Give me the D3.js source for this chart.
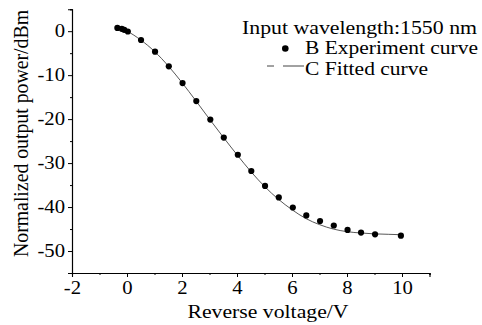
<!DOCTYPE html>
<html><head><meta charset="utf-8">
<script src="https://cdn.jsdelivr.net/npm/d3@7"></script>
<style>
html,body{margin:0;padding:0;background:#fff;}
svg{display:block;}
text{font-family:"Liberation Serif","Times New Roman",serif;fill:#000;}
</style></head>
<body>
<svg id="chart" width="482" height="325"></svg>
<script>
// Experiment data (points)
const expX = [-0.35, -0.19, -0.1, 0.03, 0.51, 1.02, 1.52, 2.02, 2.52, 3.03, 3.52, 4.03, 4.52, 5.02, 5.52, 6.03, 6.52, 7.02, 7.52, 8.02, 8.51, 9.02, 9.96];
const expY = [0.75, 0.53, 0.3, -0.07, -2.0, -4.65, -8.0, -11.8, -15.9, -20.1, -24.2, -28.1, -31.8, -35.2, -37.8, -40.1, -41.9, -43.2, -44.2, -45.2, -45.8, -46.2, -46.5];
// Fitted curve
const fitX = [-0.1, 0, 0.5, 1.0, 1.5, 2.0, 2.5, 3.0, 3.5, 4.0, 4.5, 5.0, 5.5, 6.0, 6.5, 7.0, 7.5, 8.0, 8.5, 9.0, 9.5, 10.0];
const fitY = [0.3, 0, -2.0, -4.6, -7.9, -11.7, -15.8, -20.0, -24.1, -28.1, -31.9, -35.3, -38.2, -40.6, -42.6, -44.0, -45.0, -45.6, -45.9, -46.1, -46.2, -46.3];
// Ticks
const xTicks = [-2, 0, 2, 4, 6, 8, 10];
const xMinor = [-1, 1, 3, 5, 7, 9, 11];
const yTicks = [0, -10, -20, -30, -40, -50];
const yMinor = [5, -5, -15, -25, -35, -45];
const legendTitle = "Input wavelength:1550 nm";
const legendLabels = ["B Experiment curve", "C Fitted curve"];
const xTitle = "Reverse voltage/V";
const yTitle = "Normalized output power/dBm";

const svg = d3.select("#chart");
const x = d3.scaleLinear().domain([-2, 11]).range([72, 429.5]);
const y = d3.scaleLinear().domain([-55, 5]).range([273, 9.2]);
const X0 = 72, Y0 = 273;

function stretch(sel, factor) {
  sel.each(function(){
    const len = this.getComputedTextLength();
    d3.select(this).attr("textLength", len*factor).attr("lengthAdjust","spacingAndGlyphs");
  });
}

// Fitted curve
const line = d3.line().x(d => x(d[0])).y(d => y(d[1])).curve(d3.curveMonotoneX);
svg.append("path").datum(fitX.map((v,i)=>[v, fitY[i]]))
  .attr("d", line).attr("fill","none").attr("stroke","#444").attr("stroke-width",0.9);

// Points
svg.append("g").selectAll("circle").data(expX.map((v,i)=>[v, expY[i]])).join("circle")
  .attr("cx", d=>x(d[0])).attr("cy", d=>y(d[1])).attr("r", 3.1).attr("fill","#000");

// Axes
const xAxis = svg.append("g").attr("transform",`translate(0,${Y0})`)
  .call(d3.axisBottom(x).tickValues(xTicks).tickSize(4).tickPadding(4).tickFormat(d=>String(d)));
const xAxisMinor = svg.append("g").attr("transform",`translate(0,${Y0})`)
  .call(d3.axisBottom(x).tickValues(xMinor).tickSize(2).tickFormat(""));
const yAxis = svg.append("g").attr("transform",`translate(${X0},0)`)
  .call(d3.axisLeft(y).tickValues(yTicks).tickSize(4).tickPadding(3).tickFormat(d=>String(d)));
const yAxisMinor = svg.append("g").attr("transform",`translate(${X0},0)`)
  .call(d3.axisLeft(y).tickValues(yMinor).tickSize(2).tickFormat(""));
[xAxis, xAxisMinor, yAxis, yAxisMinor].forEach(g=>{
  g.select(".domain").attr("stroke","#000").attr("stroke-width",1.1);
  g.selectAll(".tick line").attr("stroke","#000").attr("stroke-width",1);
  g.selectAll("text").attr("font-family",'"Liberation Serif","Times New Roman",serif').attr("font-size",18).attr("fill","#000");
});
stretch(xAxis.selectAll(".tick text"), 1.15);
stretch(yAxis.selectAll(".tick text"), 1.15);

// Axis titles
svg.append("text").attr("x", 268).attr("y", 318).attr("text-anchor","middle")
  .attr("font-size",18.5).text(xTitle)
  .attr("textLength",161).attr("lengthAdjust","spacingAndGlyphs");
svg.append("text").attr("transform","translate(28,133.5) rotate(-90)").attr("text-anchor","middle")
  .attr("font-size",20).text(yTitle)
  .attr("textLength",247).attr("lengthAdjust","spacingAndGlyphs");

// Legend
svg.append("text").attr("x",242).attr("y",33.5).attr("font-size",18).text(legendTitle)
  .attr("textLength",235).attr("lengthAdjust","spacingAndGlyphs");
svg.append("circle").attr("cx",285.3).attr("cy",48.5).attr("r",3.3).attr("fill","#000");
svg.append("text").attr("x",305).attr("y",54).attr("font-size",18).text(legendLabels[0])
  .attr("textLength",173).attr("lengthAdjust","spacingAndGlyphs");
svg.append("line").attr("x1",267).attr("x2",304).attr("y1",66).attr("y2",66)
  .attr("stroke","#444").attr("stroke-width",1).attr("stroke-dasharray","7,9,21");
svg.append("text").attr("x",305).attr("y",75).attr("font-size",18).text(legendLabels[1])
  .attr("textLength",123).attr("lengthAdjust","spacingAndGlyphs");
</script>
</body></html>
